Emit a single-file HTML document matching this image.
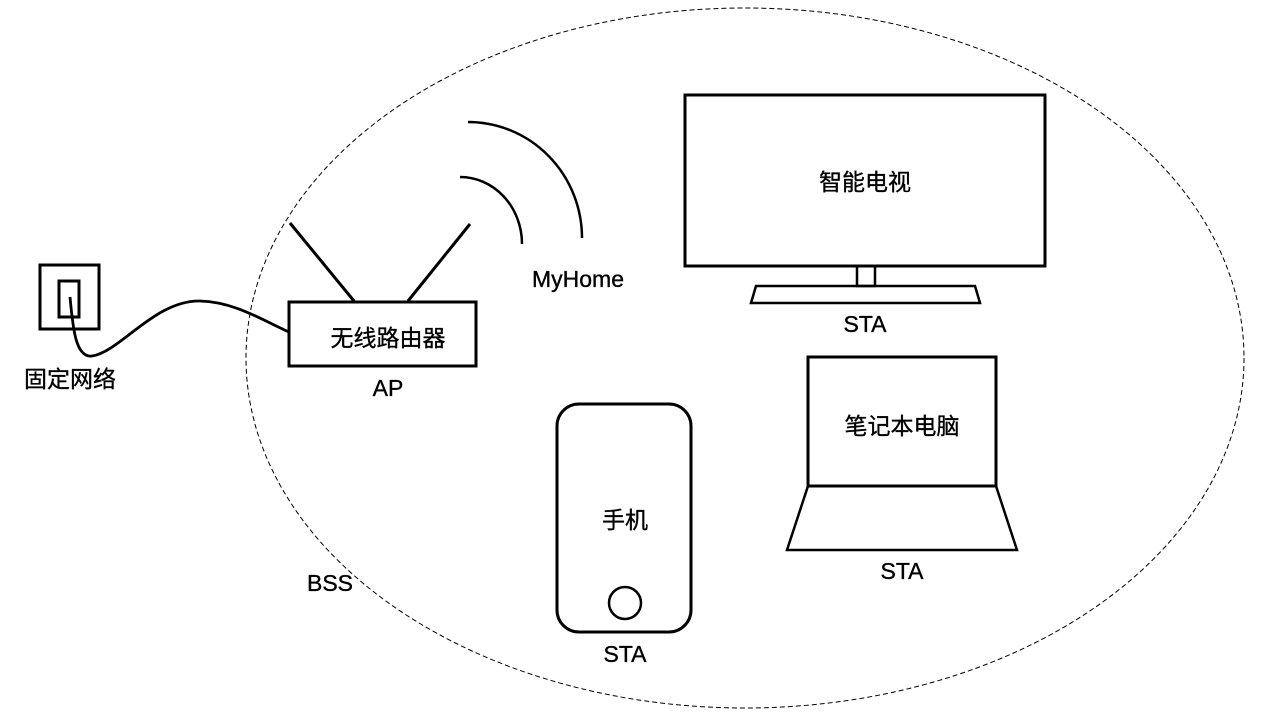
<!DOCTYPE html>
<html><head><meta charset="utf-8"><style>
html,body{margin:0;padding:0;background:#fff;}
svg{display:block;}
text{font-family:"Liberation Sans","Noto Sans CJK SC",sans-serif;font-size:23px;fill:#000;stroke:#000;stroke-width:0.35;text-anchor:middle;}
</style></head><body>
<svg width="1264" height="718" viewBox="0 0 1264 718" xmlns="http://www.w3.org/2000/svg">
<ellipse cx="745" cy="358" rx="499" ry="350" fill="none" stroke="#000" stroke-width="1" stroke-dasharray="5,3"/>
<g fill="none" stroke="#000" stroke-width="3">
<rect x="40" y="265" width="59" height="64"/>
<rect x="59" y="281" width="20" height="36"/>
<path d="M70,297 C73,330 76,358 92,356 C120,352 155,300 200,301 C235,302 262,320 289,332" stroke-width="2.8"/>
<rect x="289" y="302" width="187" height="64"/>
<line x1="354" y1="301" x2="290" y2="223"/>
<line x1="408" y1="301" x2="470" y2="224"/>
<path d="M460,177 A62,67 0 0 1 522,244" stroke-width="2.5"/>
<path d="M468,122 A114,116 0 0 1 582,238" stroke-width="2.5"/>
<rect x="685" y="95" width="360" height="171"/>
<rect x="857" y="266" width="18" height="20" stroke-width="2.5"/>
<polygon points="756,286 975,286 980,303 751,303" stroke-width="2.5"/>
<rect x="808" y="357" width="188" height="129"/>
<polygon points="808,486 996,486 1017,550 787,550" stroke-width="2.5"/>
<rect x="557" y="404" width="134" height="228" rx="22"/>
<circle cx="625" cy="603" r="16" stroke-width="2.5"/>
</g>
<text x="388" y="346">无线路由器</text>
<text x="388" y="396">AP</text>
<text x="70" y="387">固定网络</text>
<text x="578" y="287">MyHome</text>
<text x="865" y="190">智能电视</text>
<text x="865" y="332">STA</text>
<text x="902" y="434">笔记本电脑</text>
<text x="902" y="579">STA</text>
<text x="625" y="528">手机</text>
<text x="625" y="662">STA</text>
<text x="330" y="591">BSS</text>
</svg>
</body></html>
